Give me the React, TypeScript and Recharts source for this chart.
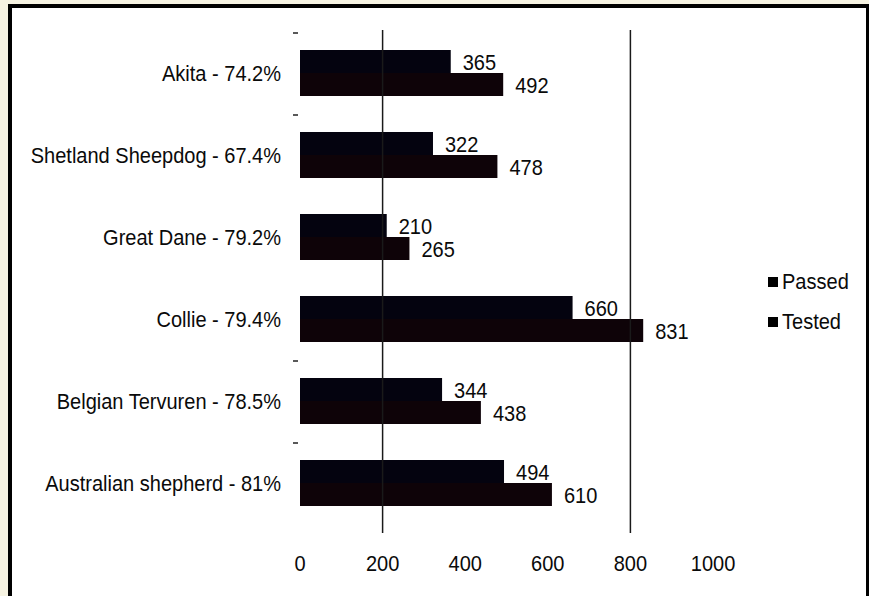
import { BarChart, Bar, XAxis, YAxis, ReferenceLine, Legend, LabelList } from 'recharts';

const categories = [
  'Akita - 74.2%',
  'Shetland Sheepdog - 67.4%',
  'Great Dane - 79.2%',
  'Collie - 79.4%',
  'Belgian Tervuren - 78.5%',
  'Australian shepherd - 81%',
];
const passed = [365, 322, 210, 660, 344, 494];
const tested = [492, 478, 265, 831, 438, 610];
const xTicks = [0, 200, 400, 600, 800, 1000];
const gridValues = [200, 800];
// little dash marks that show above some of the category bands
const bandDash = [true, true, false, false, true, true];

const data = categories.map((name, i) => ({ name, Passed: passed[i], Tested: tested[i] }));

const FONT = '"Liberation Sans", Arial, sans-serif';
const INK = '#0a0a0a';
const SIZE = 22;
const SQUEEZE = 0.91; // the original text is a narrow face

function NarrowText({ x, y, anchor = 'start', children }: any) {
  return (
    <text
      transform={`translate(${x},${y}) scale(${SQUEEZE},1)`}
      textAnchor={anchor}
      dominantBaseline="central"
      fontFamily={FONT}
      fontSize={SIZE}
      fill={INK}
    >
      {children}
    </text>
  );
}

function CategoryTick({ x, y, payload, index }: any) {
  return (
    <g>
      {bandDash[index] && <line x1={x - 7} x2={x - 2} y1={y - 40} y2={y - 40} stroke="#222" strokeWidth={1.5} />}
      <NarrowText x={x - 19} y={y} anchor="end">
        {payload.value}
      </NarrowText>
    </g>
  );
}

function ValueTick({ x, y, payload }: any) {
  return (
    <NarrowText x={x} y={y + 30} anchor="middle">
      {payload.value}
    </NarrowText>
  );
}

function BarValue({ x, y, width, height, value }: any) {
  return (
    <NarrowText x={x + width + 12} y={y + height / 2 + 1}>
      {value}
    </NarrowText>
  );
}

function LegendBox({ payload }: any) {
  return (
    <div style={{ fontFamily: FONT, fontSize: SIZE, color: INK }}>
      {(payload || []).map((p: any) => (
        <div key={p.value} style={{ display: 'flex', alignItems: 'center', height: 40 }}>
          <span style={{ width: 10, height: 10, background: '#000', marginRight: 4, display: 'inline-block' }} />
          <span style={{ display: 'inline-block', transform: `scaleX(${SQUEEZE})`, transformOrigin: 'left center' }}>
            {p.value}
          </span>
        </div>
      ))}
    </div>
  );
}

export default function App() {
  return (
    <div style={{ position: 'absolute', left: 0, top: 0, width: 869, height: 596, overflow: 'hidden', background: '#f6f3e2' }}>
      <div
        style={{
          position: 'absolute',
          left: 8,
          top: 4,
          width: 862,
          height: 620,
          border: '4px solid #000',
          boxSizing: 'border-box',
          background: '#fff',
        }}
      />
      <div style={{ position: 'absolute', left: 0, top: 0 }}>
        <BarChart
          width={869}
          height={596}
          data={data}
          layout="vertical"
          margin={{ top: 30, right: 156, left: 0, bottom: 0 }}
          barSize={23}
          barGap={0}
        >
          <XAxis
            type="number"
            domain={[0, 1000]}
            ticks={xTicks}
            axisLine={false}
            tickLine={false}
            tickSize={0}
            tickMargin={0}
            height={63}
            tick={<ValueTick />}
            interval={0}
          />
          <YAxis
            type="category"
            dataKey="name"
            width={300}
            axisLine={false}
            tickLine={false}
            tickSize={0}
            tickMargin={0}
            padding={{ top: 2, bottom: 9 }}
            tick={<CategoryTick />}
            interval={0}
          />
          {gridValues.map((v) => (
            <ReferenceLine key={v} x={v} stroke="#1a1a1a" strokeWidth={1.5} />
          ))}
          <Legend
            layout="vertical"
            align="center"
            verticalAlign="middle"
            content={<LegendBox />}
            wrapperStyle={{ left: 768, top: 262, width: 100 }}
          />
          <Bar dataKey="Passed" fill="#04030f" isAnimationActive={false}>
            <LabelList dataKey="Passed" content={<BarValue />} />
          </Bar>
          <Bar dataKey="Tested" fill="#0e0308" isAnimationActive={false}>
            <LabelList dataKey="Tested" content={<BarValue />} />
          </Bar>
        </BarChart>
      </div>
    </div>
  );
}
